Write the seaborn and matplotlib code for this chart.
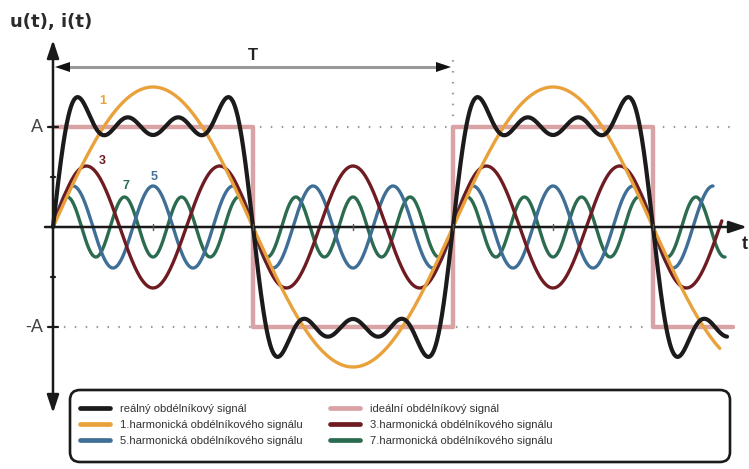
"""Square wave built from its odd harmonics (Fourier series sketch)."""
import matplotlib

matplotlib.use("Agg")

import matplotlib.pyplot as plt  # noqa: E402
import numpy as np  # noqa: E402
import pandas as pd  # noqa: E402
import seaborn as sns  # noqa: E402
from matplotlib.lines import Line2D  # noqa: E402
from matplotlib.patches import FancyBboxPatch  # noqa: E402

# --- data (time in periods T, amplitude in units of A) ---
harmonic_orders = [1, 3, 5, 7]
harmonic_amps = [1.40, 0.61, 0.41, 0.30]
harmonic_ends = [1.667, 1.672, 1.650, 1.680]
harmonic_names = ["1.harmonická obdélníkového signálu",
                  "3.harmonická obdélníkového signálu",
                  "5.harmonická obdélníkového signálu",
                  "7.harmonická obdélníkového signálu"]
harmonic_colors = ["#e9a23b", "#6e1b22", "#3f6f97", "#2b6b4f"]

# real (band-limited) square wave: amplitudes of the same odd harmonics
real_amps = [1.31, 0.485, 0.295, 0.20]
real_end = 1.685
real_name = "reálný obdélníkový signál"

# ideal square wave: switching instants and levels
ideal_times = [0.0, 0.5, 1.0, 1.5, 1.70]
ideal_levels = [1, -1, 1, -1, -1]
ideal_name = "ideální obdélníkový signál"

sns.set_theme(style="white")
plt.rcParams["font.family"] = ["Liberation Sans", "DejaVu Sans"]

fig = plt.figure(figsize=(7.49, 4.69), dpi=100)
ax = fig.add_axes([0, 0, 1, 1])
ax.set_xlim(-0.1325, 1.74)
ax.set_ylim(-2.42, 2.27)
ax.axis("off")

dot = (0, (0.7, 4.2))
grey = "#9a9a9a"

# dotted reference levels +A / -A and the dotted marker at t = T
ax.plot([0, 1.71], [1, 1], color=grey, lw=1.6, ls=dot, zorder=1)
ax.plot([0, 1.71], [-1, -1], color=grey, lw=1.6, ls=dot, zorder=1)
ax.plot([1, 1], [1, 1.71], color=grey, lw=1.6, ls=dot, zorder=1)

# ideal square wave
ideal = pd.DataFrame({"t": ideal_times, "u": ideal_levels})
sns.lineplot(data=ideal, x="t", y="u", ax=ax, color="#d9a3a5", lw=3.2,
             drawstyle="steps-post", estimator=None, zorder=2)

# harmonics, highest order first so the fundamental sits on top
for n, amp, t_end, color in reversed(list(zip(harmonic_orders, harmonic_amps,
                                               harmonic_ends, harmonic_colors))):
    t = np.linspace(0, t_end, 800)
    df = pd.DataFrame({"t": t, "u": amp * np.sin(2 * np.pi * n * t)})
    sns.lineplot(data=df, x="t", y="u", ax=ax, color=color, lw=2.4,
                 estimator=None, sort=False, zorder=3 if n > 1 else 4)

# real square wave = sum of the harmonics
t = np.linspace(0, real_end, 1200)
u = sum(a * np.sin(2 * np.pi * n * t) for n, a in zip(harmonic_orders, real_amps))
sns.lineplot(data=pd.DataFrame({"t": t, "u": u}), x="t", y="u", ax=ax,
             color="#1c1a1a", lw=3.0, estimator=None, sort=False, zorder=5)

# axes with arrows
axis_col = "#1a1a1a"
ax.annotate("", xy=(0, 1.87), xytext=(0, -1.86), zorder=6,
            arrowprops=dict(arrowstyle="<|-|>,head_length=0.9,head_width=0.3",
                            color=axis_col, lw=1.8, shrinkA=0, shrinkB=0))
ax.annotate("", xy=(1.735, 0), xytext=(-0.02, 0), zorder=6,
            arrowprops=dict(arrowstyle="-|>,head_length=0.9,head_width=0.3",
                            color=axis_col, lw=1.8, shrinkA=0, shrinkB=0))
for yv, half in [(1, 0.012), (-1, 0.012), (0.5, 0.006), (-0.5, 0.006)]:
    ax.plot([-half, half], [yv, yv], color=axis_col, lw=1.6, zorder=6)
for xv in np.arange(0.25, 1.7, 0.25):
    ax.plot([xv, xv], [-0.03, 0.03], color="#555555", lw=1.0, zorder=6)

# period arrow
ax.plot([0.02, 0.98], [1.6, 1.6], color=grey, lw=2.2, zorder=6)
for tip, tail in [(0.005, 0.06), (0.995, 0.94)]:
    ax.annotate("", xy=(tip, 1.6), xytext=(tail, 1.6), zorder=7,
                arrowprops=dict(arrowstyle="-|>,head_length=0.9,head_width=0.3",
                                color="#111111", lw=0, shrinkA=0, shrinkB=0))
ax.text(0.5, 1.71, "T", ha="center", va="center", fontsize=12,
        fontweight="bold", color="#222222")

# texts
fig.text(10 / 749, 1 - 22 / 469, "u(t), i(t)", ha="left", va="center",
         fontsize=13, fontweight="bold", color="#2a2a2a",
         family=["DejaVu Sans"])
ax.text(-0.025, 1, "A", ha="right", va="center", fontsize=13, color="#444444")
ax.text(-0.025, -1, "-A", ha="right", va="center", fontsize=13, color="#444444")
ax.text(1.73, -0.17, "t", ha="center", va="center", fontsize=13,
        fontweight="bold", color="#222222")
for lab, x, y, c in [("1", 0.125, 1.26, harmonic_colors[0]),
                     ("3", 0.123, 0.66, harmonic_colors[1]),
                     ("7", 0.183, 0.41, harmonic_colors[3]),
                     ("5", 0.253, 0.50, harmonic_colors[2])]:
    ax.text(x, y, lab, ha="center", va="center", fontsize=9,
            fontweight="bold", color=c)

# legend: column 1 real/1st/5th, column 2 ideal/3rd/7th
columns = [
    ([("#1c1a1a", real_name), (harmonic_colors[0], harmonic_names[0]),
      (harmonic_colors[2], harmonic_names[2])], 80),
    ([("#d9a3a5", ideal_name), (harmonic_colors[1], harmonic_names[1]),
      (harmonic_colors[3], harmonic_names[3])], 330),
]
for entries, x_px in columns:
    handles = [Line2D([], [], color=c, lw=3.4) for c, _ in entries]
    leg = fig.legend(handles, [name for _, name in entries], loc="upper left",
                     bbox_to_anchor=(x_px / 749, 1 - 404 / 469), frameon=False,
                     fontsize=8.1, handlelength=2.7, handletextpad=0.9,
                     labelspacing=0.52, borderpad=0, borderaxespad=0)
    for txt in leg.get_texts():
        txt.set_color("#333333")

fig.patches.append(FancyBboxPatch((0.70, 0.07), 6.60, 0.72,
                                  boxstyle="round,pad=0,rounding_size=0.1",
                                  transform=fig.dpi_scale_trans, fill=False,
                                  lw=1.9, edgecolor="#1a1a1a"))

fig.savefig("out.png", dpi=100)
plt.close(fig)
